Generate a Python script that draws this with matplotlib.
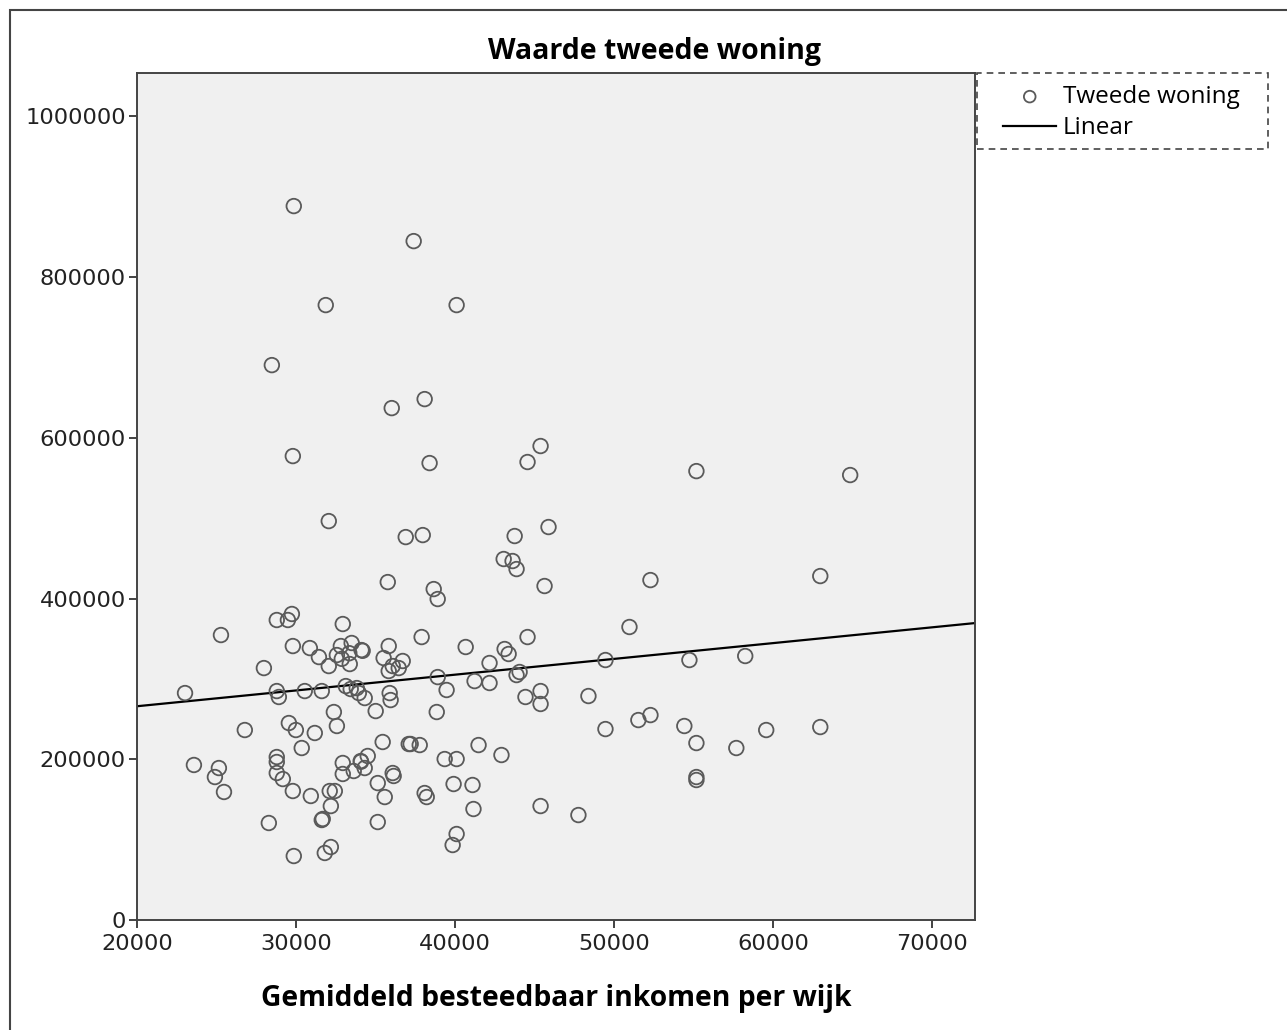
import numpy as np
import matplotlib
matplotlib.use('Agg')
import matplotlib.pyplot as plt
from matplotlib.patches import Rectangle

# Gemiddeld besteedbaar inkomen per wijk (x) en waarde tweede woning (y)
inkomen = [29860, 37400, 31870, 40100, 28480, 36020, 38090, 29800, 45380, 38400,
           44560, 55180, 64850, 32060, 45880, 36900, 37970, 43750, 43060, 43620,
           43870, 52290, 35770, 38660, 38910, 45630, 62970, 28790, 29740, 29490,
           32940, 50970, 25280, 37900, 44560, 29800, 30870, 33500, 32820, 35830,
           40670, 43120, 34120, 43370, 31440, 32570, 33380, 35510, 36080, 36710,
           32060, 27980, 35830, 36460, 42170, 44060, 43870, 49460, 54740, 58250,
           23020, 28790, 28920, 30550, 31620, 33130, 33440, 33820, 33950, 34320,
           35890, 35950, 38910, 39470, 41230, 42170, 44430, 45380, 45380, 48390,
           35010, 38850, 32380, 32570, 29550, 29990, 31180, 26780, 49460, 51530,
           52290, 54420, 62970, 59570, 57690, 55180, 30360, 37090, 37210, 37780,
           41480, 42920, 34510, 34070, 28790, 28790, 39350, 40100, 23580, 25150,
           24900, 25470, 28790, 29170, 32940, 32940, 33630, 34320, 35450, 36080,
           36140, 35140, 35580, 29800, 30930, 32120, 32440, 32190, 31680, 31620,
           28290, 35140, 32190, 31810, 29860, 38090, 38220, 39910, 41100, 41160,
           40100, 39850, 45380, 47760, 55180, 55180, 32880, 34190, 33350, 34090]
waarde = [888400, 844800, 765200, 765200, 690500, 637000, 648200, 577300, 589800, 568600,
          569900, 558600, 553700, 496400, 489000, 476500, 479000, 477800, 449200, 446700,
          436700, 423000, 420500, 411800, 399400, 415600, 428000, 373300, 380800, 373300,
          368300, 364600, 354600, 352100, 352100, 340900, 338400, 344700, 340900, 340900,
          339700, 337200, 335900, 331000, 327200, 329700, 318500, 326000, 316000, 322300,
          316000, 313500, 309800, 313500, 319800, 308600, 304800, 323500, 323500, 328500,
          282400, 284900, 277500, 284900, 284900, 291100, 287400, 288600, 282400, 276200,
          282400, 273700, 302300, 286200, 297300, 294900, 277500, 284900, 268800, 278700,
          260000, 258800, 258800, 241400, 245100, 236400, 232700, 236400, 237600, 248800,
          255000, 241400, 240100, 236400, 214000, 220200, 214000, 219000, 219000, 217700,
          217700, 205300, 204100, 197800, 202800, 196600, 200300, 200300, 192900, 189100,
          177900, 159300, 182900, 175400, 195400, 181700, 185400, 189100, 221500, 182900,
          179200, 170400, 153000, 160500, 154300, 160500, 160500, 141800, 125700, 124400,
          120700, 121900, 90800, 83400, 79600, 158000, 153000, 169200, 168000, 138100,
          107000, 93300, 141800, 130600, 177900, 174200, 325000, 335000, 332000, 197000]

lijn_x = [20000, 72700]
lijn_y = [266000, 369500]

x_ticks = [20000, 30000, 40000, 50000, 60000, 70000]
y_ticks = [0, 200000, 400000, 600000, 800000, 1000000]

W, H = 1287, 1030
fig = plt.figure(figsize=(W/100, H/100), dpi=100)
ax = fig.add_axes([137/W, 1 - 920/H, (975-137)/W, (920-73)/H])
ax.set_facecolor('#f0f0f0')

ax.scatter(inkomen, waarde, s=110, facecolors='none', edgecolors='#5a5a5a',
           linewidths=1.3, label='Tweede woning', zorder=3)
ax.plot(lijn_x, lijn_y, color='black', linewidth=1.6, label='Linear', zorder=2)

ax.set_xlim(20000, 72700)
ax.set_ylim(0, 1054000)
ax.set_xticks(x_ticks)
ax.set_yticks(y_ticks)
ax.set_xticklabels([str(t) for t in x_ticks])
ax.set_yticklabels([str(t) for t in y_ticks])
ax.tick_params(direction='out', length=6, width=1.2, colors='#222222', labelsize=16.2)
ax.tick_params(axis='x', pad=4)
ax.tick_params(axis='y', pad=2)
for s in ax.spines.values():
    s.set_color('#444444')
    s.set_linewidth(1.4)

fig.text(654/W, 1 - 52/H, 'Waarde tweede woning', fontfamily='Open Sans',
         fontweight='bold', fontsize=20.5, ha='center', va='center')
ax.set_xlabel('Gemiddeld besteedbaar inkomen per wijk', fontfamily='Open Sans',
              fontweight='bold', fontsize=20.3, labelpad=22)

# legenda zonder eigen kader, gestreept kader apart
leg = fig.legend(loc='upper left', bbox_to_anchor=(1003/W, 1 - 85/H),
                 borderaxespad=0, borderpad=0, frameon=False,
                 prop={'family': 'Open Sans', 'size': 17.5},
                 handlelength=2.2, handletextpad=0.25,
                 labelspacing=0.3, markerscale=0.8)
fig.patches.append(Rectangle((977/W, 1 - 149/H), (1268-977)/W, (149-73)/H,
                             transform=fig.transFigure, fill=False, edgecolor='#444444',
                             linewidth=1.2, linestyle=(0, (4, 3))))

# buitenste kader
fig.patches.append(Rectangle((10/W, -0.1), 1.2, 1 - 10/H + 0.1, transform=fig.transFigure,
                             fill=False, edgecolor='#444444', linewidth=1.5))

fig.savefig('out.png', dpi=100)
